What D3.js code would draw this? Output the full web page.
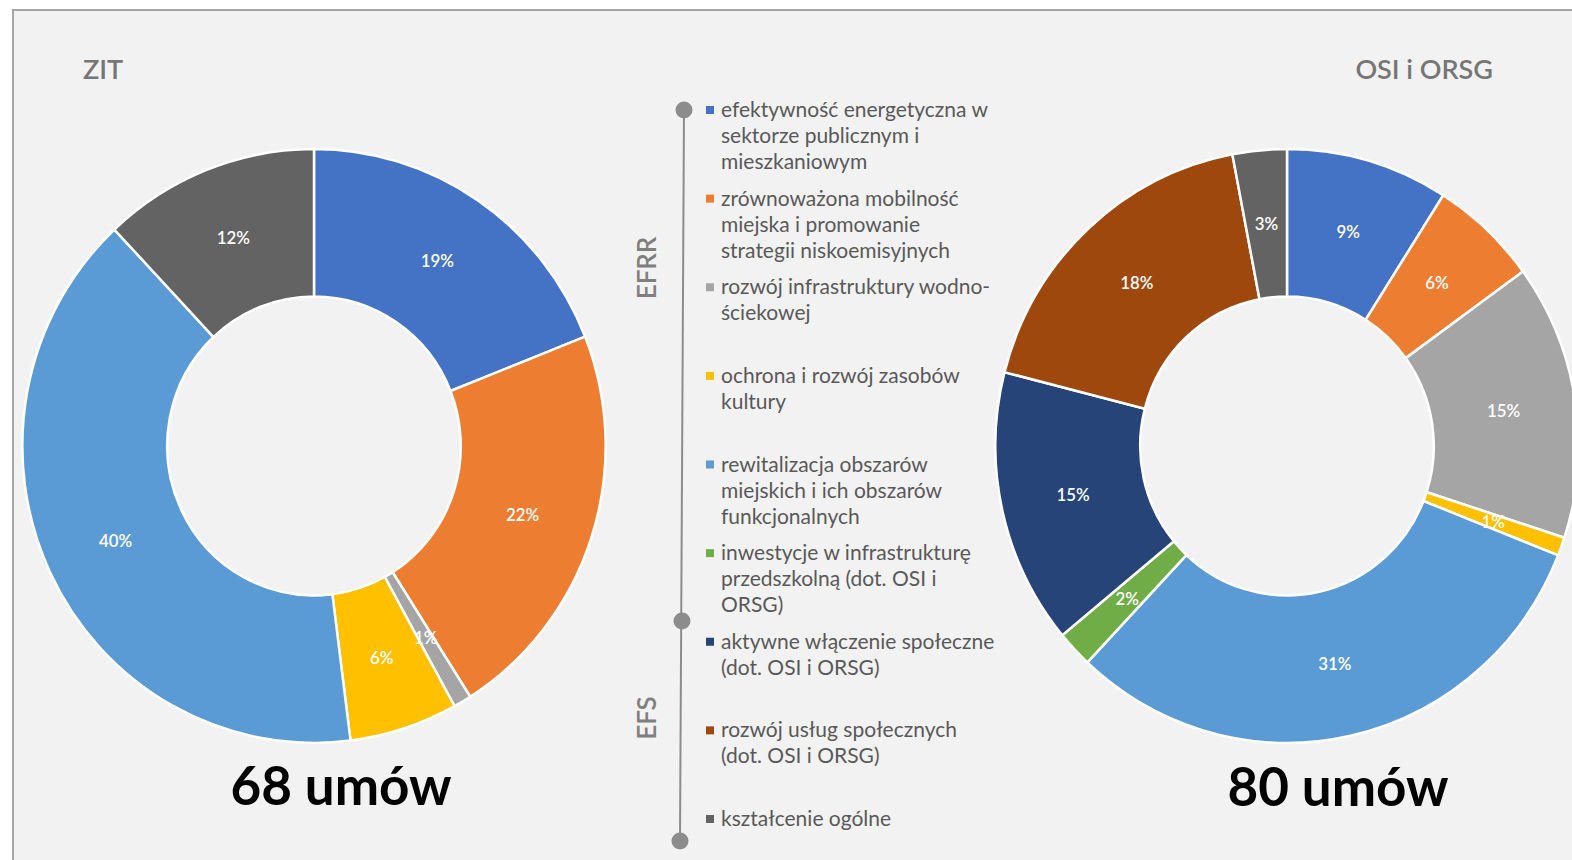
<!DOCTYPE html>
<html>
<head>
<meta charset="utf-8">
<script src="https://cdn.jsdelivr.net/npm/d3@7"></script>
<style>
  body { margin: 0; background: #fff; }
  text { font-family: Lato, "Open Sans", sans-serif; }
</style>
</head>
<body>
<svg id="main_svg" width="1572" height="860"></svg>
<script>
// categories (legend order == slice order, clockwise from the top)
var categories = [
  ["efektywność energetyczna w", "sektorze publicznym i", "mieszkaniowym"],
  ["zrównoważona mobilność", "miejska i promowanie", "strategii niskoemisyjnych"],
  ["rozwój infrastruktury wodno-", "ściekowej"],
  ["ochrona i rozwój zasobów", "kultury"],
  ["rewitalizacja obszarów", "miejskich i ich obszarów", "funkcjonalnych"],
  ["inwestycje w infrastrukturę", "przedszkolną (dot. OSI i", "ORSG)"],
  ["aktywne włączenie społeczne", "(dot. OSI i ORSG)"],
  ["rozwój usług społecznych", "(dot. OSI i ORSG)"],
  ["kształcenie ogólne"]
];
var colors = ["#4472c4", "#ed7d31", "#a5a5a5", "#ffc000", "#5b9bd5",
              "#70ad47", "#264478", "#9e480e", "#636363"];

// percent shares
var zitValues = [19, 22, 1, 6, 40, 0, 0, 0, 12];
var osiValues = [9, 6, 15, 1, 31, 2, 15, 18, 3];

var titles = ["ZIT", "OSI i ORSG"];
var totals = ["68 umów", "80 umów"];
var groups = ["EFRR", "EFS"];

var svg = d3.select("#main_svg");

// panel background
svg.append("rect")
  .attr("x", 13).attr("y", 10)
  .attr("width", 1580).attr("height", 880)
  .attr("fill", "#f2f2f2")
  .attr("stroke", "#a6a6a6")
  .attr("stroke-width", 2);

var outerR = 294, innerR = 148;
var pie = d3.pie().sort(null).value(function(d){ return d.v; });
var arc = d3.arc().innerRadius(innerR).outerRadius(outerR);

function donut(values, cx, cy) {
  var data = values.map(function(v, i){ return {v: v, i: i}; });
  var g = svg.append("g")
    .attr("transform", "translate(" + cx + "," + cy + ") scale(0.992,1.01)");
  var arcs = pie(data).filter(function(d){ return d.data.v > 0; });
  g.selectAll("path")
    .data(arcs)
    .enter()
    .append("path")
    .attr("d", arc)
    .attr("fill", function(d){ return colors[d.data.i]; })
    .attr("stroke", "#fff")
    .attr("stroke-width", 2.5);
  g.selectAll("text")
    .data(arcs)
    .enter()
    .append("text")
    .attr("transform", function(d){ return "translate(" + arc.centroid(d) + ")"; })
    .attr("text-anchor", "middle")
    .attr("dy", "0.35em")
    .attr("fill", "#fff")
    .attr("font-size", 17)
    .attr("font-weight", 600)
    .text(function(d){ return d.data.v + "%"; });
}

donut(zitValues, 314, 446);
donut(osiValues, 1287, 446);

// titles
svg.append("text")
  .attr("x", 83).attr("y", 79)
  .attr("font-size", 27).attr("font-weight", 600)
  .attr("fill", "#767676")
  .text(titles[0]);
svg.append("text")
  .attr("x", 1493).attr("y", 79)
  .attr("text-anchor", "end")
  .attr("font-size", 27).attr("font-weight", 600)
  .attr("fill", "#767676")
  .text(titles[1]);

// totals
svg.append("text")
  .attr("x", 341).attr("y", 805)
  .attr("text-anchor", "middle")
  .attr("font-size", 53).attr("font-weight", 700)
  .attr("fill", "#000")
  .text(totals[0]);
svg.append("text")
  .attr("x", 1338).attr("y", 806)
  .attr("text-anchor", "middle")
  .attr("font-size", 53).attr("font-weight", 700)
  .attr("fill", "#000")
  .text(totals[1]);

// legend
var ly = d3.scaleLinear().domain([0, categories.length - 1]).range([110, 819]);
var legend = svg.append("g");
var items = legend.selectAll("g.item")
  .data(categories)
  .enter()
  .append("g")
  .attr("class", "item")
  .attr("transform", function(d, i){ return "translate(0," + ly(i) + ")"; });
items.append("rect")
  .attr("x", 706).attr("y", -4)
  .attr("width", 8).attr("height", 8)
  .attr("fill", function(d, i){ return colors[i]; });
items.append("text")
  .attr("font-size", 21)
  .attr("fill", "#595959")
  .selectAll("tspan")
  .data(function(d){ return d; })
  .enter()
  .append("tspan")
  .attr("x", 721)
  .attr("y", function(d, j){ return 7 + j * 26; })
  .text(function(d){ return d; });

// timeline
svg.append("line")
  .attr("x1", 684).attr("y1", 110)
  .attr("x2", 680).attr("y2", 841)
  .attr("stroke", "#8c8c8c").attr("stroke-width", 2);
[[684, 110], [682, 621], [680, 841]].forEach(function(p){
  svg.append("circle")
    .attr("cx", p[0]).attr("cy", p[1]).attr("r", 8.5)
    .attr("fill", "#8c8c8c");
});

// group labels
svg.append("text")
  .attr("transform", "translate(656,268) rotate(-90)")
  .attr("text-anchor", "middle")
  .attr("font-size", 26).attr("font-weight", 600)
  .attr("fill", "#7f7f7f")
  .text(groups[0]);
svg.append("text")
  .attr("transform", "translate(656,718) rotate(-90)")
  .attr("text-anchor", "middle")
  .attr("font-size", 26).attr("font-weight", 600)
  .attr("fill", "#7f7f7f")
  .text(groups[1]);
</script>
</body>
</html>
